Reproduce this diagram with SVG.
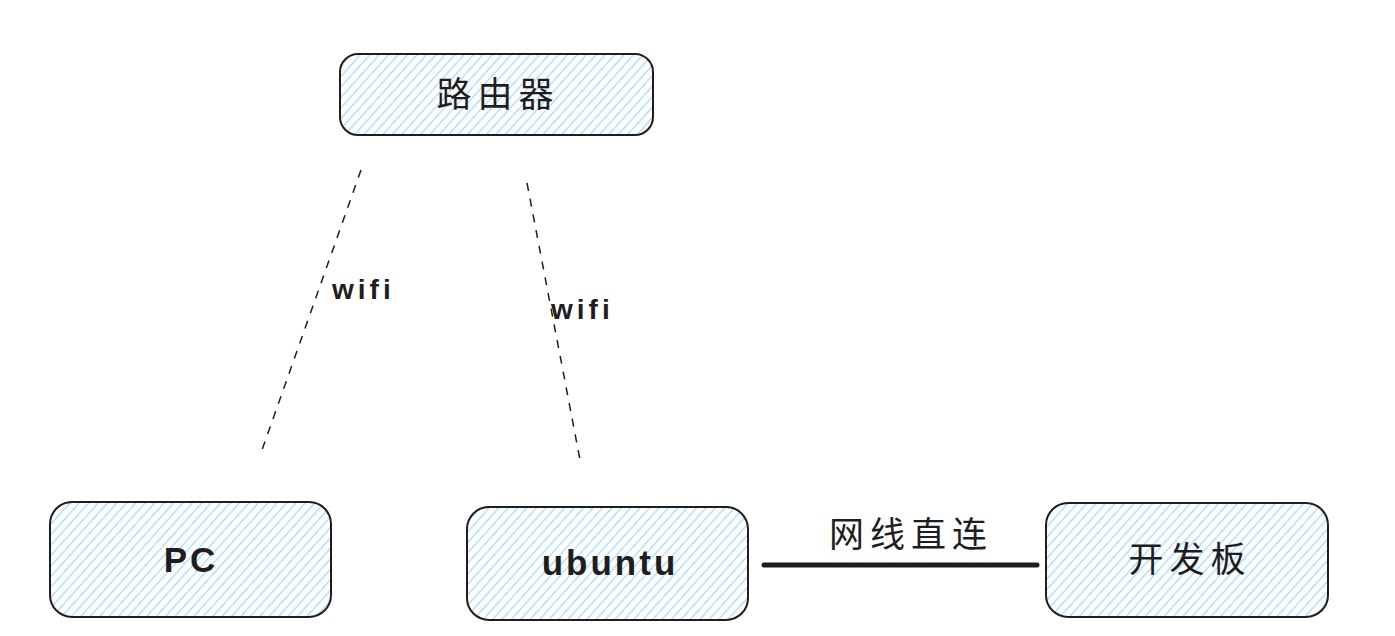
<svg xmlns="http://www.w3.org/2000/svg" width="1395" height="636" viewBox="0 0 1395 636">
<defs>
<pattern id="hatch" patternUnits="userSpaceOnUse" width="7" height="7" patternTransform="rotate(-48)">
<line x1="0" y1="3.5" x2="7" y2="3.5" stroke="#a5d8ff" stroke-width="1.3"/>
</pattern>
</defs>
<style>
.box{fill:url(#hatch);stroke:#1e1e1e;stroke-width:2}
.lbl{font-family:"Liberation Sans","Noto Sans CJK SC",sans-serif;fill:#1e1e1e;text-anchor:middle}
.cn{font-size:35px;letter-spacing:6px}
.en{font-size:35px;font-weight:bold;letter-spacing:3px}
.wifi{font-family:"Liberation Sans",sans-serif;font-size:28px;font-weight:bold;fill:#1e1e1e;letter-spacing:4px}
.dash{stroke:#1e1e1e;stroke-width:1.5;stroke-dasharray:8 8;fill:none}
</style>
<rect width="1395" height="636" fill="#ffffff"/>
<g id="connectors">
<line class="dash" x1="361" y1="170" x2="262" y2="450"/>
<line class="dash" x1="527" y1="183" x2="581" y2="465"/>
<line x1="764" y1="565" x2="1037" y2="565" stroke="#1e1e1e" stroke-width="5" stroke-linecap="round"/>
<text class="wifi" x="332" y="299">wifi</text>
<text class="wifi" x="551" y="319">wifi</text>
<text class="lbl cn" x="911" y="547">网线直连</text>
</g>
<g id="router">
<rect class="box" x="340" y="54" width="313" height="81" rx="18"/>
<text class="lbl cn" x="498" y="107">路由器</text>
</g>
<g id="pc">
<rect class="box" x="50" y="502" width="281" height="115" rx="22"/>
<text class="lbl en" x="191" y="572">PC</text>
</g>
<g id="ubuntu">
<rect class="box" x="467" y="507" width="281" height="113" rx="22"/>
<text class="lbl en" x="610" y="575">ubuntu</text>
</g>
<g id="board">
<rect class="box" x="1046" y="503" width="282" height="114" rx="22"/>
<text class="lbl cn" x="1190" y="572">开发板</text>
</g>
</svg>
